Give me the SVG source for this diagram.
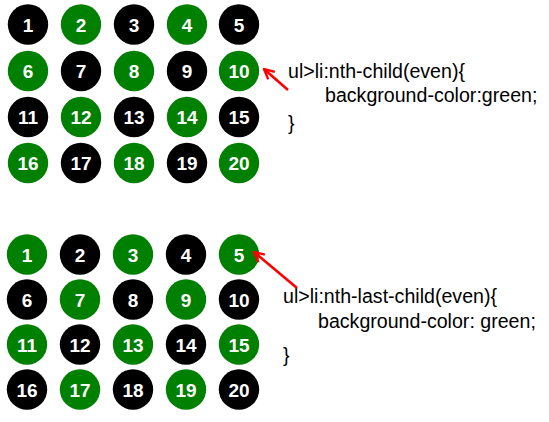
<svg xmlns="http://www.w3.org/2000/svg" width="549" height="422" viewBox="0 0 549 422">
<defs>
<style>
.g{fill:#008000}
.b{fill:#000}
.n{fill:#fff;font-family:"Liberation Sans",Arial,sans-serif;font-weight:bold;font-size:19px;text-anchor:middle}
.c{fill:#000;font-family:"Liberation Sans",Arial,sans-serif;font-size:19.6px}
.arr{stroke:#f00;stroke-width:2.6;fill:none}
</style>
<marker id="ah" viewBox="0 0 12 12" refX="11" refY="6" markerWidth="12" markerHeight="12" markerUnits="userSpaceOnUse" orient="auto">
<path d="M1,1 L11,6 L1,11" fill="none" stroke="#f00" stroke-width="2.4"/>
</marker>
</defs>
<rect width="549" height="422" fill="#fff"/>
<g id="grid1">
<g id="t1"><circle class="b" cx="28" cy="24.5" r="20.2"/><text class="n" x="28" y="31.5">1</text></g>
<g id="t2"><circle class="g" cx="81" cy="24.5" r="20.2"/><text class="n" x="81" y="31.5">2</text></g>
<g id="t3"><circle class="b" cx="134" cy="24.5" r="20.2"/><text class="n" x="134" y="31.5">3</text></g>
<g id="t4"><circle class="g" cx="187" cy="24.5" r="20.2"/><text class="n" x="187" y="31.5">4</text></g>
<g id="t5"><circle class="b" cx="239" cy="24.5" r="20.2"/><text class="n" x="239" y="31.5">5</text></g>
<g id="t6"><circle class="g" cx="28" cy="71" r="20.2"/><text class="n" x="28" y="78">6</text></g>
<g id="t7"><circle class="b" cx="81" cy="71" r="20.2"/><text class="n" x="81" y="78">7</text></g>
<g id="t8"><circle class="g" cx="134" cy="71" r="20.2"/><text class="n" x="134" y="78">8</text></g>
<g id="t9"><circle class="b" cx="187" cy="71" r="20.2"/><text class="n" x="187" y="78">9</text></g>
<g id="t10"><circle class="g" cx="239" cy="71" r="20.2"/><text class="n" x="239" y="78">10</text></g>
<g id="t11"><circle class="b" cx="28" cy="117" r="20.2"/><text class="n" x="28" y="124">11</text></g>
<g id="t12"><circle class="g" cx="81" cy="117" r="20.2"/><text class="n" x="81" y="124">12</text></g>
<g id="t13"><circle class="b" cx="134" cy="117" r="20.2"/><text class="n" x="134" y="124">13</text></g>
<g id="t14"><circle class="g" cx="187" cy="117" r="20.2"/><text class="n" x="187" y="124">14</text></g>
<g id="t15"><circle class="b" cx="239" cy="117" r="20.2"/><text class="n" x="239" y="124">15</text></g>
<g id="t16"><circle class="g" cx="28" cy="163" r="20.2"/><text class="n" x="28" y="170">16</text></g>
<g id="t17"><circle class="b" cx="81" cy="163" r="20.2"/><text class="n" x="81" y="170">17</text></g>
<g id="t18"><circle class="g" cx="134" cy="163" r="20.2"/><text class="n" x="134" y="170">18</text></g>
<g id="t19"><circle class="b" cx="187" cy="163" r="20.2"/><text class="n" x="187" y="170">19</text></g>
<g id="t20"><circle class="g" cx="239" cy="163" r="20.2"/><text class="n" x="239" y="170">20</text></g>
</g>
<g id="grid2">
<g id="b1"><circle class="g" cx="27" cy="254.5" r="20.2"/><text class="n" x="27" y="261.5">1</text></g>
<g id="b2"><circle class="b" cx="80" cy="254.5" r="20.2"/><text class="n" x="80" y="261.5">2</text></g>
<g id="b3"><circle class="g" cx="133" cy="254.5" r="20.2"/><text class="n" x="133" y="261.5">3</text></g>
<g id="b4"><circle class="b" cx="186" cy="254.5" r="20.2"/><text class="n" x="186" y="261.5">4</text></g>
<g id="b5"><circle class="g" cx="239" cy="254.5" r="20.2"/><text class="n" x="239" y="261.5">5</text></g>
<g id="b6"><circle class="b" cx="27" cy="299.5" r="20.2"/><text class="n" x="27" y="306.5">6</text></g>
<g id="b7"><circle class="g" cx="80" cy="299.5" r="20.2"/><text class="n" x="80" y="306.5">7</text></g>
<g id="b8"><circle class="b" cx="133" cy="299.5" r="20.2"/><text class="n" x="133" y="306.5">8</text></g>
<g id="b9"><circle class="g" cx="186" cy="299.5" r="20.2"/><text class="n" x="186" y="306.5">9</text></g>
<g id="b10"><circle class="b" cx="239" cy="299.5" r="20.2"/><text class="n" x="239" y="306.5">10</text></g>
<g id="b11"><circle class="g" cx="27" cy="344.5" r="20.2"/><text class="n" x="27" y="351.5">11</text></g>
<g id="b12"><circle class="b" cx="80" cy="344.5" r="20.2"/><text class="n" x="80" y="351.5">12</text></g>
<g id="b13"><circle class="g" cx="133" cy="344.5" r="20.2"/><text class="n" x="133" y="351.5">13</text></g>
<g id="b14"><circle class="b" cx="186" cy="344.5" r="20.2"/><text class="n" x="186" y="351.5">14</text></g>
<g id="b15"><circle class="g" cx="239" cy="344.5" r="20.2"/><text class="n" x="239" y="351.5">15</text></g>
<g id="b16"><circle class="b" cx="27" cy="389.5" r="20.2"/><text class="n" x="27" y="396.5">16</text></g>
<g id="b17"><circle class="g" cx="80" cy="389.5" r="20.2"/><text class="n" x="80" y="396.5">17</text></g>
<g id="b18"><circle class="b" cx="133" cy="389.5" r="20.2"/><text class="n" x="133" y="396.5">18</text></g>
<g id="b19"><circle class="g" cx="186" cy="389.5" r="20.2"/><text class="n" x="186" y="396.5">19</text></g>
<g id="b20"><circle class="b" cx="239" cy="389.5" r="20.2"/><text class="n" x="239" y="396.5">20</text></g>
</g>
<g id="code1">
<text class="c" x="288" y="78">ul&gt;li:nth-child(even){</text>
<text class="c" x="325" y="102">background-color:green;</text>
<text class="c" x="288" y="130">}</text>
</g>
<g id="code2">
<text class="c" x="283" y="303">ul&gt;li:nth-last-child(even){</text>
<text class="c" x="318" y="328">background-color: green;</text>
<text class="c" x="283" y="362">}</text>
</g>
<g id="connectors">
<path class="arr" d="M288,90 L264,69" marker-end="url(#ah)"/>
<path class="arr" d="M297,288 L254,252" marker-end="url(#ah)"/>
</g>
</svg>
